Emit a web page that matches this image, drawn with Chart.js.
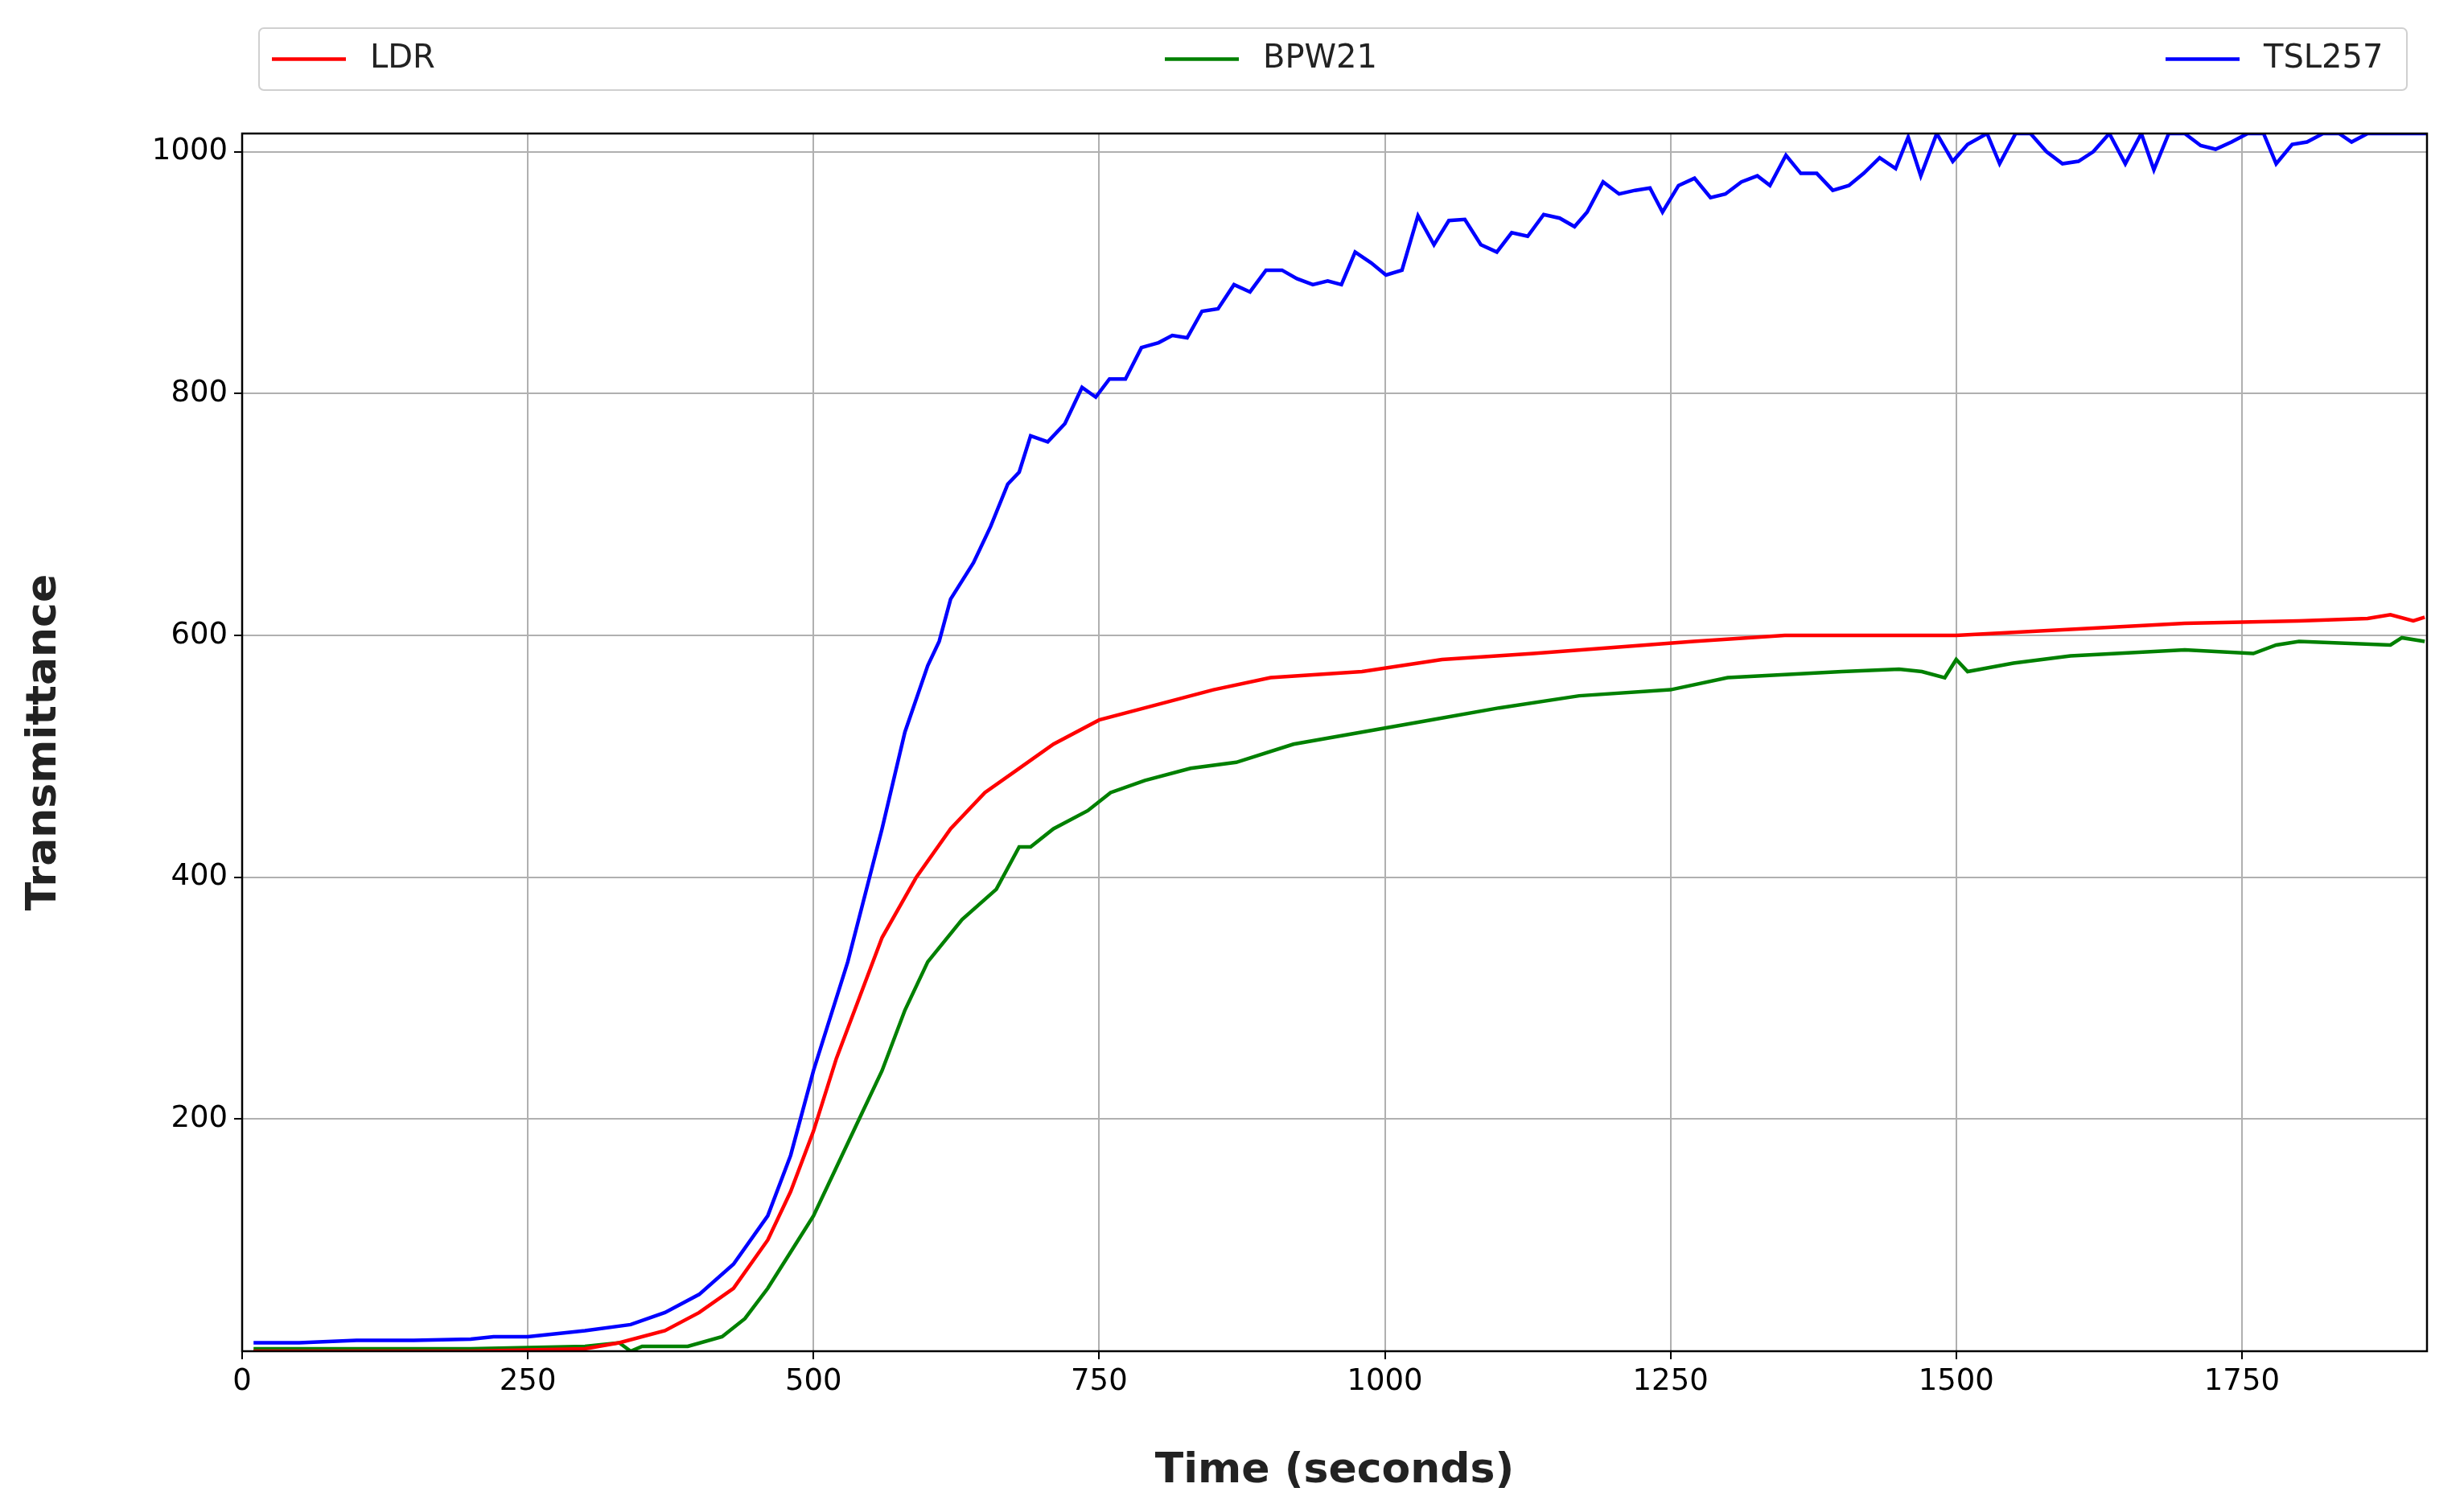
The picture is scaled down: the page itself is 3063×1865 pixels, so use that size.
<!DOCTYPE html>
<html><head><meta charset="utf-8">
<script src="https://cdn.jsdelivr.net/npm/chart.js@4"></script>
<style>html,body{margin:0;padding:0;background:#fff}canvas{display:block}</style>
</head><body>
<canvas id="c" width="3063" height="1865" style="width:3063px;height:1865px"></canvas>
<script>
const seriesNames = ["LDR", "BPW21", "TSL257"];
const seriesColors = ["#ff0000", "#008000", "#0000ff"];
const xTicks = [0, 250, 500, 750, 1000, 1250, 1500, 1750];
const yTicks = [200, 400, 600, 800, 1000];

const ldrT = [10,100,200,300,330,370,400,430,460,480,500,520,540,560,590,620,650,680,710,750,790,850,900,980,1050,1130,1200,1270,1350,1500,1600,1700,1800,1860,1880,1900,1910];
const ldrV = [8,8,8,10,15,25,40,60,100,140,190,250,300,350,400,440,470,490,510,530,540,555,565,570,580,585,590,595,600,600,605,610,612,614,617,612,615];

const bpwT = [10,100,200,300,330,340,350,390,420,440,460,480,500,520,540,560,580,600,630,660,680,690,710,740,760,790,830,870,920,980,1040,1100,1170,1250,1300,1400,1450,1470,1490,1500,1510,1550,1600,1700,1760,1780,1800,1880,1890,1910];
const bpwV = [10,10,10,12,15,8,12,12,20,35,60,90,120,160,200,240,290,330,365,390,425,425,440,455,470,480,490,495,510,520,530,540,550,555,565,570,572,570,565,580,570,577,583,588,585,592,595,592,598,595];

const tslT = [10,50,100,150,200,220,250,300,340,370,400,430,460,480,500,530,560,580,600,610,620,640,655,670,680,690,705,720,735,747,759,773,787,802,814,827,840,854,868,882,896,910,923,937,950,962,974,988,1001,1015,1029,1043,1056,1070,1084,1098,1111,1125,1139,1153,1166,1177,1191,1205,1219,1232,1243,1257,1271,1285,1298,1312,1326,1337,1351,1364,1378,1392,1406,1419,1433,1447,1458,1469,1483,1497,1510,1527,1538,1552,1565,1579,1593,1607,1620,1634,1648,1662,1673,1686,1700,1714,1727,1741,1755,1769,1780,1794,1807,1821,1835,1846,1860,1913];
const tslV = [15,15,17,17,18,20,20,25,30,40,55,80,120,170,240,330,440,520,575,595,630,660,690,725,735,765,760,775,805,797,812,812,838,842,848,846,868,870,890,884,902,902,895,890,893,890,917,908,898,902,947,923,943,944,923,917,933,930,948,945,938,950,975,965,968,970,950,972,978,962,965,975,980,972,997,982,982,968,972,982,995,986,1012,980,1015,992,1006,1015,990,1015,1015,1000,990,992,1000,1015,990,1015,985,1015,1015,1005,1002,1008,1015,1015,990,1006,1008,1015,1015,1008,1015,1015];

function pts(t, v){ return t.map((x,i)=>({x:x,y:v[i]})); }
const datasets = [pts(ldrT,ldrV), pts(bpwT,bpwV), pts(tslT,tslV)].map((d,i)=>({
  label: seriesNames[i], data: d, borderColor: seriesColors[i], backgroundColor: seriesColors[i],
  borderWidth: 4.5, pointRadius: 0, tension: 0, fill: false
}));

const legendPlugin = {
  id: 'mplLegend',
  afterDraw(chart){
    const ctx = chart.ctx;
    const x0 = 322, y0 = 35, w = 2670, h = 77;
    ctx.save();
    ctx.strokeStyle = '#d0d0d0'; ctx.lineWidth = 2;
    ctx.beginPath(); ctx.roundRect(x0, y0, w, h, 6); ctx.stroke();
    ctx.font = '40px "DejaVu Sans"'; ctx.textBaseline = 'middle';
    const items = [{x: 338}, {x: 1448}, {x: 2692}];
    items.forEach((it,i)=>{
      const cy = y0 + h/2;
      ctx.strokeStyle = seriesColors[i]; ctx.lineWidth = 4.5;
      ctx.beginPath(); ctx.moveTo(it.x, cy); ctx.lineTo(it.x+92, cy); ctx.stroke();
      ctx.fillStyle = '#222'; ctx.fillText(seriesNames[i], it.x + 122, cy);
    });
    const a = chart.chartArea;
    ctx.strokeStyle = '#000'; ctx.lineWidth = 2.5;
    ctx.strokeRect(a.left, a.top, a.right - a.left, a.bottom - a.top);
    ctx.restore();
  }
};

new Chart(document.getElementById('c'), {
  type: 'line',
  data: { datasets },
  plugins: [legendPlugin],
  options: {
    responsive: false, animation: false, devicePixelRatio: 1,
    layout: { padding: { top: 166, right: 46, left: 20, bottom: 0 } },
    plugins: { legend: { display: false }, tooltip: { enabled: false } },
    scales: {
      x: {
        type: 'linear', min: 0, max: 1912,
        afterBuildTicks: s => { s.ticks = xTicks.map(v=>({value:v})); },
        afterFit: s => { s.height = 185; },
        grid: { color: '#b0b0b0', lineWidth: 2, drawTicks: true, tickLength: 10, tickColor: '#000' },
        border: { display: false },
        ticks: { color: '#000', font: { size: 37, family: 'DejaVu Sans' }, padding: 6, maxRotation: 0, callback: v => String(v) },
        title: { display: true, text: 'Time (seconds)', color: '#222', font: { size: 52, weight: 'bold', family: 'DejaVu Sans' }, padding: { top: 0 } }
      },
      y: {
        min: 8, max: 1015,
        afterBuildTicks: s => { s.ticks = yTicks.map(v=>({value:v})); },
        afterFit: s => { s.width = 281; },
        grid: { color: '#b0b0b0', lineWidth: 2, drawTicks: true, tickLength: 10, tickColor: '#000' },
        border: { display: false },
        ticks: { color: '#000', font: { size: 37, family: 'DejaVu Sans' }, padding: 8, callback: v => String(v) },
        title: { display: true, text: 'Transmittance', color: '#222', font: { size: 52, weight: 'bold', family: 'DejaVu Sans' }, padding: { bottom: 30 } }
      }
    }
  }
});
</script>
</body></html>
